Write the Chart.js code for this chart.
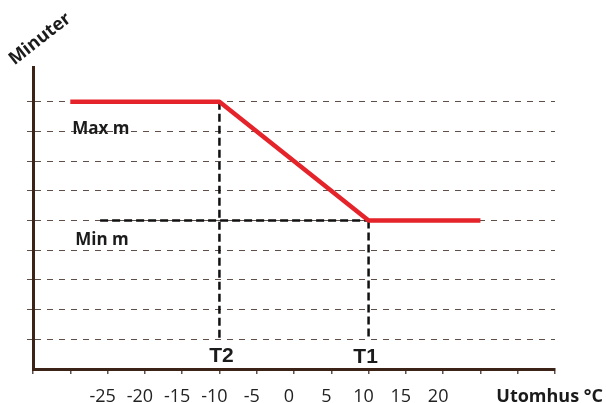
<!DOCTYPE html>
<html>
<head>
<meta charset="utf-8">
<script src="https://cdn.jsdelivr.net/npm/chart.js@4.4.1/dist/chart.umd.min.js"></script>
<style>
    html, body { margin: 0; padding: 0; background: #fff; }
    #wrap { width: 606px; height: 403px; }
</style>
</head>
<body>
<div id="wrap"><canvas id="chart" width="606" height="403"></canvas></div>
<script>
// Heating curve: outdoor temperature (°C) -> minutes
const curveTemps = [-30, -10, 10, 25]
const curveMinutes = [9, 9, 5, 5]
const t2 = -10
const t1 = 10
const maxMinutes = 9
const minMinutes = 5
const guideBottom = 1
const minGuideStart = -26
const tempRange = [-35, 35]
const minuteRange = [0, 10.17]
const labelledTemps = [-25, -20, -15, -10, -5, 0, 5, 10, 15, 20]

const INK = '#111111'
const AXIS = '#3b2318'
const GRID = '#5e4f49'
const RED = '#e5232a'

const toPoints = (xs, ys) => xs.map((x, i) => ({ x, y: ys[i] }))

const guide = (data) => ({
    data,
    borderColor: INK,
    borderWidth: 2.5,
    borderDash: [8, 4],
    pointRadius: 0,
    fill: false,
})

const annotations = {
    id: 'annotations',
    afterDatasetsDraw(chart) {
        const { ctx, scales: { x, y } } = chart
        ctx.save()
        ctx.fillStyle = '#1b1b1b'
        ctx.textBaseline = 'alphabetic'

        ctx.textAlign = 'left'
        ctx.font = "bold 17px 'Open Sans'"
        ctx.fillText('Max m', x.getPixelForValue(curveTemps[0]) + 2, y.getPixelForValue(maxMinutes) + 32)
        ctx.fillText('Min m', x.getPixelForValue(curveTemps[0]) + 5, y.getPixelForValue(minMinutes) + 24)

        ctx.textAlign = 'center'
        ctx.font = "bold 21px 'Liberation Sans'"
        ctx.fillText('T2', x.getPixelForValue(t2) + 2, y.getPixelForValue(guideBottom) + 23)
        ctx.fillText('T1', x.getPixelForValue(t1) - 3, y.getPixelForValue(guideBottom) + 24)

        ctx.textAlign = 'right'
        ctx.font = "bold 18px 'Open Sans'"
        ctx.fillText('Utomhus °C', chart.width - 3, 402)

        // rotated y title
        ctx.translate(40, 39)
        ctx.rotate(-38 * Math.PI / 180)
        ctx.textAlign = 'center'
        ctx.textBaseline = 'middle'
        ctx.font = "bold 18px 'Open Sans'"
        ctx.fillText('Minuter', 0, 0)
        ctx.restore()
    }
}

Chart.defaults.font.family = "'Open Sans', sans-serif"

new Chart(document.getElementById('chart'), {
    type: 'line',
    data: {
        datasets: [
            {
                data: toPoints(curveTemps, curveMinutes),
                borderColor: RED,
                borderWidth: 4.5,
                borderJoinStyle: 'round',
                pointRadius: 0,
                fill: false,
            },
            guide(toPoints([t2, t2], [maxMinutes, guideBottom])),
            guide(toPoints([t1, t1], [minMinutes, guideBottom])),
            guide(toPoints([minGuideStart, t1], [minMinutes, minMinutes])),
        ],
    },
    options: {
        responsive: false,
        animation: false,
        devicePixelRatio: 1,
        layout: { padding: { top: 67, right: 51, left: 0, bottom: 0 } },
        plugins: { legend: { display: false }, tooltip: { enabled: false } },
        scales: {
            x: {
                type: 'linear',
                min: tempRange[0],
                max: tempRange[1],
                afterFit: (s) => { s.height = 34 },
                ticks: {
                    stepSize: 5,
                    autoSkip: false,
                    maxRotation: 0,
                    padding: 12,
                    labelOffset: -5,
                    color: '#222222',
                    font: { size: 18 },
                    callback: (v) => labelledTemps.includes(v) ? String(v) : '',
                },
                grid: { drawOnChartArea: false, drawTicks: true, tickLength: 5, color: GRID, lineWidth: 1.5 },
                border: { color: AXIS, width: 3 },
            },
            y: {
                type: 'linear',
                min: minuteRange[0],
                max: minuteRange[1],
                afterFit: (s) => { s.width = 33 },
                ticks: { display: false, stepSize: 1 },
                grid: {
                    tickLength: 6,
                    lineWidth: 1,
                    color: (c) => (c.tick && Number.isInteger(c.tick.value) && c.tick.value > 0) ? GRID : 'rgba(0,0,0,0)',
                },
                border: { color: AXIS, width: 3, dash: [6, 6] },
            },
        },
    },
    plugins: [annotations],
})
</script>
</body>
</html>
